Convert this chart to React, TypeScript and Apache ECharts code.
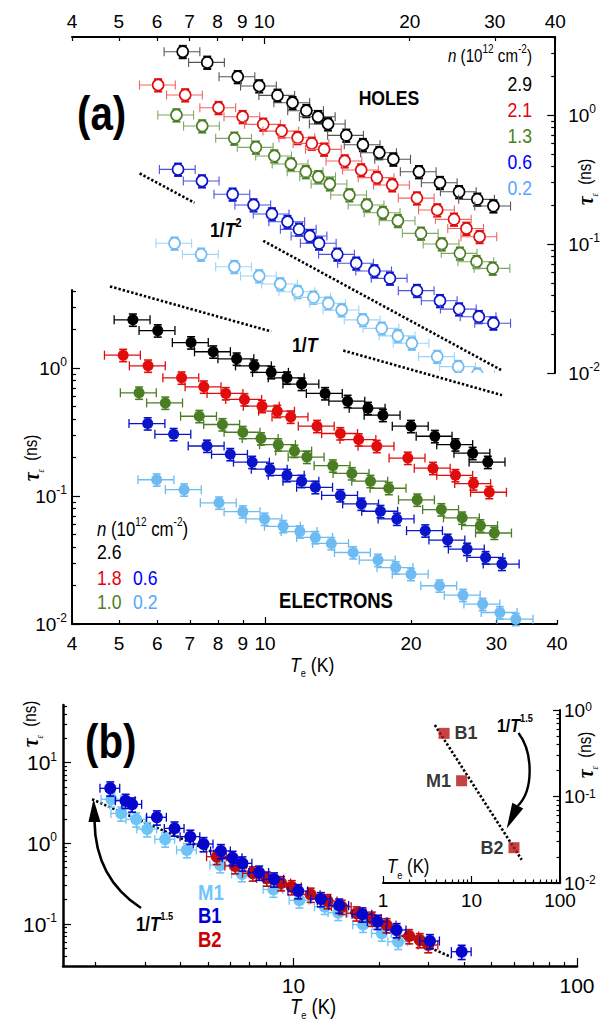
import React, { useEffect, useRef } from 'react';
import * as echarts from 'echarts';

// ================= DATA =================
// Panel (a) – electrons (filled symbols), T_e (K) and tau_eps (ns)
const E_BLACK_T = [5.34, 6.01, 7.04, 7.82, 8.74, 9.5, 10.3, 11.1, 11.9, 13.3, 14.8, 16.3, 17.5, 20.0, 22.4, 24.7, 26.8, 28.8];
const E_BLACK_TAU = [2.38, 1.96, 1.58, 1.34, 1.18, 1.04, 0.925, 0.839, 0.749, 0.633, 0.551, 0.486, 0.428, 0.351, 0.293, 0.252, 0.216, 0.184];
const E_RED_T = [5.1, 5.74, 6.73, 7.48, 8.3, 9.07, 9.86, 10.6, 11.3, 12.8, 14.3, 15.6, 17.0, 19.7, 22.2, 24.7, 26.9, 29.0];
const E_RED_TAU = [1.26, 1.04, 0.839, 0.713, 0.633, 0.568, 0.503, 0.46, 0.415, 0.351, 0.308, 0.276, 0.245, 0.198, 0.165, 0.145, 0.125, 0.107];
const E_GREEN_T = [5.5, 6.23, 7.32, 8.17, 9.0, 9.81, 10.65, 11.5, 12.2, 13.8, 15.1, 16.5, 18.0, 20.6, 23.1, 25.5, 27.8, 29.7];
const E_GREEN_TAU = [0.64, 0.534, 0.42, 0.362, 0.315, 0.281, 0.252, 0.2245, 0.2015, 0.1725, 0.15, 0.1306, 0.115, 0.0933, 0.0784, 0.0675, 0.0587, 0.0514];
const E_BLUE_T = [5.73, 6.48, 7.59, 8.48, 9.41, 10.24, 11.1, 11.9, 12.7, 14.3, 15.8, 17.3, 18.7, 21.4, 23.8, 26.1, 28.5, 30.8];
const E_BLUE_TAU = [0.368, 0.3035, 0.246, 0.2116, 0.184, 0.162, 0.145, 0.1306, 0.117, 0.101, 0.0868, 0.076, 0.0662, 0.0536, 0.0453, 0.0385, 0.0331, 0.0294];
const E_LBLUE_T = [5.98, 6.81, 8.04, 9.0, 9.98, 10.9, 11.8, 12.7, 13.7, 15.2, 17.1, 18.6, 20.0, 22.9, 25.6, 28.1, 30.5, 32.9];
const E_LBLUE_TAU = [0.134, 0.112, 0.0885, 0.0755, 0.0662, 0.058, 0.0527, 0.0475, 0.0426, 0.0362, 0.0316, 0.0276, 0.0245, 0.0199, 0.0168, 0.0143, 0.0123, 0.0109];

// Panel (a) – holes (open symbols)
const H_BLACK_T = [6.78, 7.62, 8.81, 9.76, 10.65, 11.44, 12.22, 12.92, 13.55, 14.78, 16.0, 17.3, 18.5, 20.9, 23.1, 25.3, 27.6, 29.8];
const H_BLACK_TAU = [3.1, 2.56, 1.98, 1.68, 1.42, 1.245, 1.08, 0.97, 0.852, 0.696, 0.589, 0.51, 0.454, 0.363, 0.299, 0.254, 0.222, 0.197];
const H_RED_T = [6.03, 6.86, 8.04, 9.02, 9.95, 10.86, 11.72, 12.54, 13.3, 14.67, 15.87, 17.1, 18.4, 20.7, 22.8, 24.7, 26.2, 27.9];
const H_RED_TAU = [1.71, 1.43, 1.14, 0.97, 0.847, 0.751, 0.667, 0.603, 0.542, 0.44, 0.375, 0.327, 0.287, 0.227, 0.1835, 0.1554, 0.132, 0.114];
const H_GREEN_T = [6.58, 7.44, 8.67, 9.61, 10.49, 11.35, 12.19, 12.94, 13.66, 15.0, 16.3, 17.6, 18.9, 21.1, 23.3, 25.4, 27.5, 29.7];
const H_GREEN_TAU = [1.0, 0.822, 0.66, 0.562, 0.481, 0.417, 0.363, 0.332, 0.292, 0.24, 0.2006, 0.175, 0.1516, 0.121, 0.1, 0.0847, 0.0729, 0.0648];
const H_BLUE_T = [6.63, 7.43, 8.6, 9.5, 10.37, 11.17, 11.8, 12.42, 12.98, 14.16, 15.5, 16.9, 18.2, 20.7, 23.1, 25.3, 27.8, 29.8];
const H_BLUE_TAU = [0.379, 0.308, 0.243, 0.2006, 0.171, 0.149, 0.13, 0.1153, 0.1013, 0.0832, 0.0709, 0.0618, 0.0542, 0.0435, 0.0363, 0.0313, 0.0273, 0.0243];
const H_LBLUE_T = [6.52, 7.4, 8.67, 9.76, 10.79, 11.72, 12.64, 13.57, 14.46, 16.0, 17.5, 18.9, 20.2, 22.8, 25.2, 27.6];
const H_LBLUE_TAU = [0.1013, 0.0832, 0.0667, 0.0565, 0.049, 0.0427, 0.0386, 0.0347, 0.0308, 0.0258, 0.0222, 0.0194, 0.017, 0.0134, 0.0112, 0.0098];

// Legend densities n (10^12 cm^-2)
const N_HOLES = ['2.9', '2.1', '1.3', '0.6', '0.2'];
const N_ELEC = ['2.6', '1.8', '1.0', '0.6', '0.2'];

// Guide lines (power laws) – end points (T, tau)
const G_T2A_T = [5.52, 7.17];
const G_T2A_TAU = [0.353, 0.209];
const G_T2B_T = [9.95, 30.9];
const G_T2B_TAU = [0.106, 0.01055];
const G_T1A_T = [4.79, 10.3];
const G_T1A_TAU = [4.34, 1.93];
const G_T1B_T = [14.5, 30.8];
const G_T1B_TAU = [1.37, 0.614];

// Panel (b)
const B1_T = [2.26, 2.56, 2.7, 3.3, 3.81, 4.33, 4.82, 5.55, 6.1, 6.61, 7.57, 8.55, 10.4, 12.5, 14.5, 17.5, 19.8, 23.1, 30.3, 39.2];
const B1_TAU = [4.8, 3.37, 3.04, 2.1, 1.53, 1.21, 0.98, 0.803, 0.663, 0.565, 0.435, 0.358, 0.256, 0.204, 0.17, 0.132, 0.107, 0.0843, 0.0616, 0.0454];
const M1_T = [2.28, 2.47, 2.79, 3.05, 3.53, 4.21, 5.52, 6.58, 8.5, 10.5, 12.9, 14.4, 17.6, 20.5, 23.4];
const M1_TAU = [3.51, 2.35, 1.98, 1.5, 1.12, 0.826, 0.538, 0.417, 0.268, 0.197, 0.164, 0.138, 0.0983, 0.0767, 0.0604];
const B2_T = [5.37, 6.23, 7.19, 8.06, 9.05, 9.87, 11.5, 13.2, 14.8, 16.7, 18.9, 21.3, 25.6, 27.9, 29.9];
const B2_TAU = [0.682, 0.523, 0.425, 0.368, 0.322, 0.287, 0.232, 0.193, 0.164, 0.136, 0.117, 0.0972, 0.071, 0.0633, 0.055];
const G_B_T = [1.95, 36.2];
const G_B_TAU = [3.51, 0.0387];

// Inset of panel (b)
const INSET_NAMES = ['B1', 'M1', 'B2'];
const INSET_T = [4.9, 7.73, 30.2];
const INSET_TAU = [0.537, 0.152, 0.0256];
const G_I_T = [3.85, 36.9];
const G_I_TAU = [0.67, 0.0186];

// Tick values
const LAB_X_A = [4, 5, 6, 7, 8, 9, 10, 20, 30, 40];
const MAJ_X_A = [10];
const MIN_X_A = [4, 5, 6, 7, 8, 9, 20, 30, 40];
const DEC_Y_A = [0.01, 0.1, 1];
const MIN_Y_A = [0.02, 0.03, 0.04, 0.05, 0.06, 0.07, 0.08, 0.09, 0.2, 0.3, 0.4, 0.5, 0.6, 0.7, 0.8, 0.9, 2, 3, 4];
const LAB_X_B = [10, 100];
const MIN_X_B = [2, 3, 4, 5, 6, 7, 8, 9, 20, 30, 40, 50, 60, 70, 80, 90];
const LAB_Y_B = [0.1, 1, 10];
const MIN_Y_B = [0.04, 0.05, 0.06, 0.07, 0.08, 0.09, 0.2, 0.3, 0.4, 0.5, 0.6, 0.7, 0.8, 0.9, 2, 3, 4, 5, 6, 7, 8, 9, 20, 30, 40, 50];
const LAB_X_I = [1, 10, 100];
const MIN_X_I = [2, 3, 4, 5, 6, 7, 8, 9, 20, 30, 40, 50, 60, 70, 80, 90];
const LAB_Y_I = [0.01, 0.1, 1];
const MIN_Y_I = [0.02, 0.03, 0.04, 0.05, 0.06, 0.07, 0.08, 0.09, 0.2, 0.3, 0.4, 0.5, 0.6, 0.7, 0.8, 0.9];

// ================= STYLE =================
const FONT = '"Liberation Sans Narrow", "Arial Narrow", "Liberation Sans", Arial, sans-serif';
const SERIF = '"Liberation Serif", "DejaVu Serif", serif';
const NARROW = 0.84;

const C_BLACK = '#000000';
const C_RED = '#e10d0d';
const C_GREEN = '#4b7d23';
const C_BLUE = '#0a14c8';
const C_LBLUE = '#6dbbf2';

const yFmt = (v: number) => `10{sup|${Math.round(Math.log10(v))}}`;
const xFmt = (v: number) => String(Math.round(v));

function mkAxis(o: any) {
  const rich = {
    sup: { fontSize: 12, lineHeight: 12, verticalAlign: 'top', fontFamily: FONT, color: '#000' },
  };
  return {
    type: 'log',
    logBase: 10,
    gridIndex: o.grid,
    position: o.pos,
    min: o.min,
    max: o.max,
    axisLine: { show: !!o.line, onZero: false, lineStyle: { color: '#000', width: o.lw ?? 2 } },
    axisTick: {
      show: true,
      inside: true,
      length: o.tickLen,
      customValues: o.ticks,
      lineStyle: { color: '#000', width: 1.2 },
    },
    axisLabel: o.labels
      ? {
          show: true,
          customValues: o.labels,
          formatter: o.fmt,
          margin: o.margin ?? 8,
          fontSize: o.fontSize ?? 19,
          fontFamily: FONT,
          color: '#000',
          lineHeight: o.rich ? (o.lh ?? 24) : undefined,
          rich,
          showMinLabel: true,
          showMaxLabel: true,
        }
      : { show: false },
    splitLine: { show: false },
    minorTick: { show: false },
    minorSplitLine: { show: false },
  };
}

function errSeries(o: any) {
  const data = o.T.map((t: number, i: number) => [
    t,
    o.tau[i],
    t * (1 - o.eT),
    t * (1 + o.eT),
    o.tau[i] * (1 - o.eTau),
    o.tau[i] * (1 + o.eTau),
  ]);
  const hbar = o.bar || o.color;
  const r = o.r ?? 5.5;
  return {
    type: 'custom',
    xAxisIndex: o.x,
    yAxisIndex: o.y,
    data,
    clip: !!o.clip,
    z: o.z ?? 3,
    silent: true,
    encode: { x: [0, 2, 3], y: [1, 4, 5] },
    renderItem: (_params: any, api: any) => {
      const t = api.value(0);
      const v = api.value(1);
      const p = api.coord([t, v]);
      const xl = api.coord([api.value(2), v])[0];
      const xh = api.coord([api.value(3), v])[0];
      const yl = api.coord([t, api.value(4)])[1];
      const yh = api.coord([t, api.value(5)])[1];
      const hs = { stroke: hbar, lineWidth: o.hw ?? 1.3 };
      const vs = { stroke: o.color, lineWidth: o.vw ?? 1.6 };
      const c = 4.5;
      const children: any[] = [
        { type: 'line', shape: { x1: xl, y1: p[1], x2: xh, y2: p[1] }, style: hs },
        { type: 'line', shape: { x1: xl, y1: p[1] - c, x2: xl, y2: p[1] + c }, style: hs },
        { type: 'line', shape: { x1: xh, y1: p[1] - c, x2: xh, y2: p[1] + c }, style: hs },
        { type: 'line', shape: { x1: p[0], y1: yl, x2: p[0], y2: yh }, style: vs },
        { type: 'line', shape: { x1: p[0] - 4, y1: yl, x2: p[0] + 4, y2: yl }, style: vs },
        { type: 'line', shape: { x1: p[0] - 4, y1: yh, x2: p[0] + 4, y2: yh }, style: vs },
      ];
      if (o.open) {
        children.push({ type: 'circle', shape: { cx: p[0], cy: p[1], r }, style: { fill: '#fff', stroke: o.color, lineWidth: 1.6 } });
      } else {
        children.push({ type: 'circle', shape: { cx: p[0], cy: p[1], r }, style: { fill: o.color } });
      }
      return { type: 'group', children };
    },
  };
}

function guide(T: number[], tau: number[], x: number, y: number) {
  return {
    type: 'line',
    xAxisIndex: x,
    yAxisIndex: y,
    data: T.map((t, i) => [t, tau[i]]),
    symbol: 'none',
    clip: false,
    silent: true,
    z: 2,
    lineStyle: { color: '#000', width: 2.6, type: [2.4, 2] },
  };
}

function txt(x: number, y: number, text: string, o: any = {}) {
  return {
    type: 'text',
    x,
    y,
    z: 100,
    silent: true,
    rotation: o.rot || 0,
    scaleX: o.sx ?? NARROW,
    style: {
      text,
      fill: o.color || '#000',
      fontSize: o.size || 18,
      fontFamily: o.family || FONT,
      fontWeight: o.bold ? 'bold' : 'normal',
      fontStyle: o.italic ? 'italic' : 'normal',
      align: o.align || 'left',
      verticalAlign: 'middle',
      lineHeight: o.lh,
      rich: o.rich,
    },
  };
}

const richNotation = (size: number) => ({
  i: { fontStyle: 'italic', fontSize: size, fontFamily: FONT, lineHeight: 26 },
  sup: { fontSize: 12, fontFamily: FONT, lineHeight: 12, verticalAlign: 'top' },
});
const richPow = (size: number, supSize: number) => ({
  i: { fontStyle: 'italic', fontWeight: 'bold', fontSize: size, fontFamily: FONT, lineHeight: 26 },
  sup: { fontWeight: 'bold', fontSize: supSize, fontFamily: FONT, lineHeight: supSize, verticalAlign: 'top' },
});
const richTe = (size: number) => ({
  i: { fontStyle: 'italic', fontSize: size, fontFamily: FONT, lineHeight: 30 },
  sub: { fontSize: 11, fontFamily: FONT, lineHeight: 9, verticalAlign: 'bottom' },
});
const richTau = {
  t: { fontStyle: 'italic', fontWeight: 'bold', fontSize: 24, fontFamily: SERIF, lineHeight: 30 },
  sub: { fontSize: 10, fontFamily: SERIF, fontStyle: 'italic', lineHeight: 9, verticalAlign: 'bottom' },
};

const tauName = (x: number, y: number) =>
  txt(x, y, '{t|τ}{sub|ε}  (ns)', { size: 18, lh: 30, align: 'center', rot: Math.PI / 2, rich: richTau });
const teName = (x: number, y: number, size: number) =>
  txt(x, y, '{i|T}{sub|e} (K)', { size, lh: 30, rich: richTe(size) });

const App: React.FC = () => {
  const ref = useRef<HTMLDivElement>(null);
  useEffect(() => {
    if (!ref.current) return;
    const chart = echarts.init(ref.current, null, { renderer: 'svg' });

    const serColors = [C_BLACK, C_RED, C_GREEN, C_BLUE, C_LBLUE];
    const holeBars = ['#555555', '#ef6464', '#7ea667', '#4b52e6', '#9ed4f7'];
    const holeT = [H_BLACK_T, H_RED_T, H_GREEN_T, H_BLUE_T, H_LBLUE_T];
    const holeTau = [H_BLACK_TAU, H_RED_TAU, H_GREEN_TAU, H_BLUE_TAU, H_LBLUE_TAU];
    const elT = [E_BLACK_T, E_RED_T, E_GREEN_T, E_BLUE_T, E_LBLUE_T];
    const elTau = [E_BLACK_TAU, E_RED_TAU, E_GREEN_TAU, E_BLUE_TAU, E_LBLUE_TAU];
    const legendColors = ['#000000', '#e4000f', '#4e7f21', '#0000ff', '#5aa5ff'];

    const option: any = {
      animation: false,
      backgroundColor: '#ffffff',
      grid: [
        { left: 72, top: 37, width: 485, height: 336 },
        { left: 72, top: 290, width: 485, height: 334 },
        { left: 63, top: 705, width: 514, height: 261 },
        { left: 383, top: 710, width: 177, height: 173 },
      ],
      xAxis: [
        mkAxis({ grid: 0, pos: 'top', min: 4, max: 40, ticks: MAJ_X_A, tickLen: 7, labels: LAB_X_A, fmt: xFmt, margin: 6, line: true }),
        mkAxis({ grid: 0, pos: 'top', min: 4, max: 40, ticks: MIN_X_A, tickLen: 4 }),
        mkAxis({ grid: 1, pos: 'bottom', min: 4, max: 40, ticks: MAJ_X_A, tickLen: 7, labels: LAB_X_A, fmt: xFmt, margin: 10, line: true }),
        mkAxis({ grid: 1, pos: 'bottom', min: 4, max: 40, ticks: MIN_X_A, tickLen: 4 }),
        mkAxis({ grid: 2, pos: 'bottom', min: 1.54, max: 100, ticks: LAB_X_B, tickLen: 8, labels: LAB_X_B, fmt: xFmt, margin: 9, fontSize: 21, line: true, lw: 2.5 }),
        mkAxis({ grid: 2, pos: 'bottom', min: 1.54, max: 100, ticks: MIN_X_B, tickLen: 4 }),
        mkAxis({ grid: 3, pos: 'bottom', min: 1, max: 100, ticks: LAB_X_I, tickLen: 7, labels: LAB_X_I, fmt: xFmt, margin: 8, fontSize: 19, line: true }),
        mkAxis({ grid: 3, pos: 'bottom', min: 1, max: 100, ticks: MIN_X_I, tickLen: 3.5 }),
      ],
      yAxis: [
        mkAxis({ grid: 0, pos: 'right', min: 0.01, max: 4.03, ticks: DEC_Y_A, tickLen: 8, labels: DEC_Y_A, fmt: yFmt, margin: 13, rich: true, line: true }),
        mkAxis({ grid: 0, pos: 'right', min: 0.01, max: 4.03, ticks: MIN_Y_A, tickLen: 4 }),
        mkAxis({ grid: 1, pos: 'left', min: 0.01, max: 4.07, ticks: DEC_Y_A, tickLen: 8, labels: DEC_Y_A, fmt: yFmt, margin: 5, rich: true, line: true }),
        mkAxis({ grid: 1, pos: 'left', min: 0.01, max: 4.07, ticks: MIN_Y_A, tickLen: 4 }),
        mkAxis({ grid: 2, pos: 'left', min: 0.0302, max: 51.7, ticks: LAB_Y_B, tickLen: 8, labels: LAB_Y_B, fmt: yFmt, margin: 6, fontSize: 21, rich: true, line: true, lw: 2.5 }),
        mkAxis({ grid: 2, pos: 'left', min: 0.0302, max: 51.7, ticks: MIN_Y_B, tickLen: 4 }),
        mkAxis({ grid: 3, pos: 'right', min: 0.01, max: 1, ticks: LAB_Y_I, tickLen: 7, labels: LAB_Y_I, fmt: yFmt, margin: 4, rich: true, lh: 18, line: true }),
        mkAxis({ grid: 3, pos: 'right', min: 0.01, max: 1, ticks: MIN_Y_I, tickLen: 3.5 }),
      ],
      series: [
        guide(G_T2A_T, G_T2A_TAU, 0, 0),
        guide(G_T2B_T, G_T2B_TAU, 0, 0),
        guide(G_T1A_T, G_T1A_TAU, 2, 2),
        guide(G_T1B_T, G_T1B_TAU, 2, 2),
        guide(G_B_T, G_B_TAU, 4, 4),
        guide(G_I_T, G_I_TAU, 6, 6),
        ...elT.map((T, i) =>
          errSeries({ x: 2, y: 2, T, tau: elTau[i], eT: 0.085, eTau: 0.11, color: serColors[i] })
        ),
        ...holeT.map((T, i) =>
          errSeries({ x: 0, y: 0, T, tau: holeTau[i], eT: 0.085, eTau: 0.11, color: serColors[i], bar: holeBars[i], open: true, clip: true, r: 5.5, hw: 1.1, vw: 2 })
        ),
        errSeries({ x: 4, y: 4, T: M1_T, tau: M1_TAU, eT: 0.08, eTau: 0.2, color: '#6ec3f7', r: 6, z: 3 }),
        errSeries({ x: 4, y: 4, T: B2_T, tau: B2_TAU, eT: 0.08, eTau: 0.2, color: '#c20d0d', r: 6, z: 4 }),
        errSeries({ x: 4, y: 4, T: B1_T, tau: B1_TAU, eT: 0.08, eTau: 0.2, color: '#0505cc', r: 6, z: 5 }),
        {
          type: 'scatter',
          xAxisIndex: 6,
          yAxisIndex: 6,
          symbol: 'rect',
          symbolSize: 11,
          z: 5,
          silent: true,
          itemStyle: { color: '#b71414' },
          data: INSET_T.map((t, i) => ({
            value: [t, INSET_TAU[i]],
            label: { position: i === 0 ? 'right' : 'left' },
          })),
          label: {
            show: true,
            formatter: (p: any) => INSET_NAMES[p.dataIndex],
            fontFamily: FONT,
            fontWeight: 'bold',
            fontSize: 18,
            color: '#000',
            distance: 5,
          },
        },
      ],
      graphic: {
        elements: [
          // Panel (a)
          txt(77, 113, '(a)', { size: 48, bold: true }),
          txt(389, 97, 'HOLES', { size: 21, bold: true, align: 'center' }),
          txt(532, 56, '{i|n} (10{sup|12} cm{sup|-2})', { size: 18, lh: 26, align: 'right', rich: richNotation(18) }),
          ...N_HOLES.map((s, i) => txt(532, 83 + i * 26, s, { size: 21, align: 'right', color: legendColors[i] })),
          txt(97, 529, '{i|n} (10{sup|12} cm{sup|-2})', { size: 20, lh: 26, rich: richNotation(20) }),
          txt(97, 551, N_ELEC[0], { size: 21, color: legendColors[0] }),
          txt(97, 577, N_ELEC[1], { size: 21, color: legendColors[1] }),
          txt(97, 601, N_ELEC[2], { size: 21, color: legendColors[2] }),
          txt(133, 577, N_ELEC[3], { size: 21, color: legendColors[3] }),
          txt(133, 601, N_ELEC[4], { size: 21, color: legendColors[4] }),
          txt(336, 600, 'ELECTRONS', { size: 22, bold: true, align: 'center' }),
          txt(210, 229, '1/{i|T}{sup|2}', { size: 21, bold: true, lh: 26, rich: richPow(21, 13) }),
          txt(292, 344, '1/{i|T}', { size: 21, bold: true, lh: 26, rich: richPow(21, 13) }),
          tauName(585, 182),
          tauName(31, 458),
          teName(290, 664, 21),
          // Panel (b)
          txt(85, 741, '(b)', { size: 48, bold: true }),
          tauName(30, 724),
          teName(290, 1006, 22),
          txt(198, 892, 'M1', { size: 22, bold: true, color: '#6ec6fa' }),
          txt(198, 915, 'B1', { size: 22, bold: true, color: '#0000d8' }),
          txt(198, 939, 'B2', { size: 22, bold: true, color: '#cc0000' }),
          txt(136, 924, '1/{i|T}{sup|1.5}', { size: 20, bold: true, lh: 26, rich: richPow(20, 11) }),
          {
            type: 'bezierCurve',
            silent: true,
            z: 50,
            shape: { x1: 141, y1: 908, cpx1: 110, cpy1: 888, cpx2: 95, cpy2: 860, x2: 94.5, y2: 821 },
            style: { stroke: '#000', lineWidth: 2.6, fill: 'none' },
          },
          {
            type: 'polygon',
            silent: true,
            z: 50,
            shape: { points: [[93.5, 799], [88.5, 822], [100.5, 822]] },
            style: { fill: '#000' },
          },
          // Inset
          tauName(585, 755),
          teName(387, 866, 20),
          txt(497, 726, '1/{i|T}{sup|1.5}', { size: 19, bold: true, lh: 26, rich: richPow(19, 11) }),
          {
            type: 'bezierCurve',
            silent: true,
            z: 50,
            shape: { x1: 518.5, y1: 733, cpx1: 533, cpy1: 752, cpx2: 534, cpy2: 790, x2: 517.7, y2: 806 },
            style: { stroke: '#000', lineWidth: 2.4, fill: 'none' },
          },
          {
            type: 'polygon',
            silent: true,
            z: 50,
            shape: { points: [[506.7, 828.5], [512.3, 802.8], [523.2, 808.6]] },
            style: { fill: '#000' },
          },
        ],
      },
    };

    chart.setOption(option);
    return () => {
      chart.dispose();
    };
  }, []);

  return (
    <div
      ref={ref}
      style={{ position: 'absolute', left: 0, top: 0, width: 603, height: 1025, background: '#fff' }}
    />
  );
};

export default App;
